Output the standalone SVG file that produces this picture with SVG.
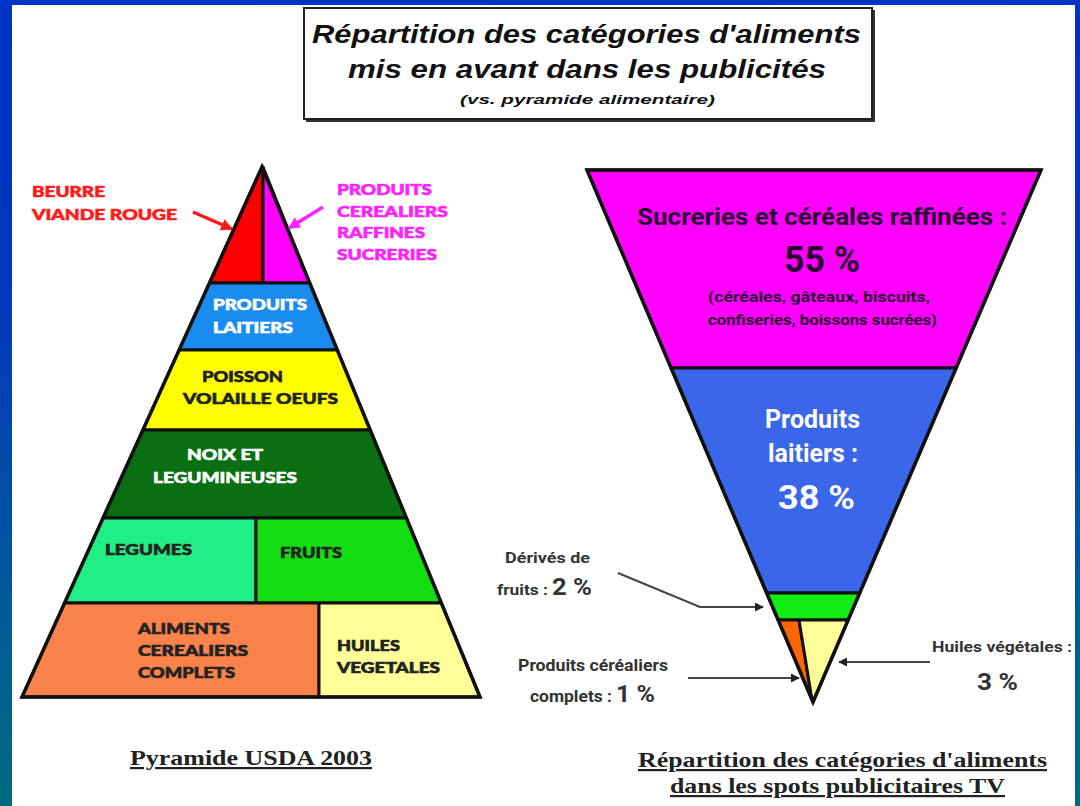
<svg xmlns="http://www.w3.org/2000/svg" width="1080" height="806" viewBox="0 0 1080 806">
<defs>
<linearGradient id="bg" x1="0" y1="0" x2="0" y2="1">
<stop offset="0" stop-color="#0033c6"/>
<stop offset="0.35" stop-color="#0036c0"/>
<stop offset="0.75" stop-color="#005a98"/>
<stop offset="1" stop-color="#006a80"/>
</linearGradient>
<marker id="ahGray" viewBox="0 0 10 10" refX="9" refY="5" markerWidth="9" markerHeight="9" markerUnits="userSpaceOnUse" orient="auto"><path d="M0,0 L10,5 L0,10 z" fill="#222"/></marker>
<marker id="ahRed" viewBox="0 0 10 10" refX="9" refY="5" markerWidth="12" markerHeight="12" markerUnits="userSpaceOnUse" orient="auto"><path d="M0,0 L10,5 L0,10 z" fill="#ff1a1a"/></marker>
<marker id="ahMag" viewBox="0 0 10 10" refX="9" refY="5" markerWidth="12" markerHeight="12" markerUnits="userSpaceOnUse" orient="auto"><path d="M0,0 L10,5 L0,10 z" fill="#ff22ff"/></marker>
</defs>
<style>
.seg{stroke:#111;stroke-width:3;stroke-linejoin:round}
.pl{font-family:Lato,"DejaVu Sans",sans-serif;font-weight:900;font-size:15px;stroke-width:0.6}
.dk{fill:#222;stroke:#222}
.wh{fill:#fff;stroke:#fff}
.title{font-family:"Liberation Sans",Arial,sans-serif;font-weight:bold;font-style:italic;fill:#111}
.cap{font-family:"Liberation Serif","Times New Roman",serif;font-weight:bold;font-size:22px;fill:#222;text-decoration:underline}
.cond{font-family:Roboto,"Liberation Sans",sans-serif;font-weight:bold}
.lab{fill:#333}
.conn{fill:none;stroke:#444;stroke-width:2}
</style>
<rect x="0" y="0" width="1080" height="806" fill="url(#bg)"/>
<rect x="12" y="5" width="1063" height="801" fill="#fff"/>

<g id="title">
<rect x="306" y="10" width="569" height="112" fill="#333"/>
<rect x="304" y="8" width="568" height="111" fill="#fff" stroke="#222" stroke-width="2"/>
<text class="title" x="312" y="43" font-size="25" textLength="549" lengthAdjust="spacingAndGlyphs">Répartition des catégories d'aliments</text>
<text class="title" x="348" y="78" font-size="25" textLength="478" lengthAdjust="spacingAndGlyphs">mis en avant dans les publicités</text>
<text class="title" x="460" y="104" font-size="13" textLength="255" lengthAdjust="spacingAndGlyphs">(vs. pyramide alimentaire)</text>
</g>

<g id="pyramid">
<g id="p-red"><polygon class="seg" points="262,167 263,167 263,283 209.5,283" fill="#ff0000"/></g>
<g id="p-mag"><polygon class="seg" points="263,167 309.7,283 263,283" fill="#ff00ff"/></g>
<g id="p-lait"><polygon class="seg" points="209.5,283 309.7,283 337.3,350 179.1,350" fill="#1a8cf0"/>
<text class="pl wh" x="213" y="310" textLength="94" lengthAdjust="spacingAndGlyphs">PRODUITS</text>
<text class="pl wh" x="213" y="333" textLength="80" lengthAdjust="spacingAndGlyphs">LAITIERS</text></g>
<g id="p-poisson"><polygon class="seg" points="179.1,350 337.3,350 370.2,430 142.9,430" fill="#ffff00"/>
<text class="pl dk" x="202" y="382" textLength="81" lengthAdjust="spacingAndGlyphs">POISSON</text>
<text class="pl dk" x="183" y="404" textLength="155" lengthAdjust="spacingAndGlyphs">VOLAILLE OEUFS</text></g>
<g id="p-noix"><polygon class="seg" points="142.9,430 370.2,430 406.4,518 103.1,518" fill="#0a6e12"/>
<text class="pl wh" x="187" y="460" textLength="76" lengthAdjust="spacingAndGlyphs">NOIX ET</text>
<text class="pl wh" x="153" y="483" textLength="144" lengthAdjust="spacingAndGlyphs">LEGUMINEUSES</text></g>
<g id="p-legumes"><polygon class="seg" points="103.1,518 256,518 256,603 64.6,603" fill="#22ee88"/>
<text class="pl dk" x="105" y="555" textLength="87" lengthAdjust="spacingAndGlyphs">LEGUMES</text></g>
<g id="p-fruits"><polygon class="seg" points="256,518 406.4,518 441.3,603 256,603" fill="#11dd11"/>
<text class="pl dk" x="280" y="558" textLength="62" lengthAdjust="spacingAndGlyphs">FRUITS</text></g>
<g id="p-aliments"><polygon class="seg" points="64.6,603 319,603 319,697 22,697" fill="#f9834a"/>
<text class="pl dk" x="138" y="634" textLength="92" lengthAdjust="spacingAndGlyphs">ALIMENTS</text>
<text class="pl dk" x="138" y="656" textLength="110" lengthAdjust="spacingAndGlyphs">CEREALIERS</text>
<text class="pl dk" x="138" y="678" textLength="97" lengthAdjust="spacingAndGlyphs">COMPLETS</text></g>
<g id="p-huiles"><polygon class="seg" points="319,603 441.3,603 480,697 319,697" fill="#ffff99"/>
<text class="pl dk" x="337" y="651" textLength="63" lengthAdjust="spacingAndGlyphs">HUILES</text>
<text class="pl dk" x="337" y="673" textLength="103" lengthAdjust="spacingAndGlyphs">VEGETALES</text></g>
<polygon points="262,167 480,697 22,697" fill="none" stroke="#111" stroke-width="3.5" stroke-linejoin="miter"/>
</g>

<g id="lab-beurre">
<text class="pl" fill="#ff1a1a" stroke="#ff1a1a" x="32" y="197" textLength="73" lengthAdjust="spacingAndGlyphs">BEURRE</text>
<text class="pl" fill="#ff1a1a" stroke="#ff1a1a" x="32" y="220" textLength="145" lengthAdjust="spacingAndGlyphs">VIANDE ROUGE</text>
</g>
<g id="lab-sucreries">
<text class="pl" fill="#ff22ff" stroke="#ff22ff" x="337" y="195" textLength="95" lengthAdjust="spacingAndGlyphs">PRODUITS</text>
<text class="pl" fill="#ff22ff" stroke="#ff22ff" x="337" y="217" textLength="111" lengthAdjust="spacingAndGlyphs">CEREALIERS</text>
<text class="pl" fill="#ff22ff" stroke="#ff22ff" x="337" y="238" textLength="88" lengthAdjust="spacingAndGlyphs">RAFFINES</text>
<text class="pl" fill="#ff22ff" stroke="#ff22ff" x="337" y="260" textLength="100" lengthAdjust="spacingAndGlyphs">SUCRERIES</text>
</g>

<g id="funnel">
<g id="f-sucreries"><polygon class="seg" points="587,170 1041,170 956.1,368 671.1,368" fill="#ff00ff"/>
<text class="cond" fill="#2a0030" x="637" y="225" font-size="23" textLength="370" lengthAdjust="spacingAndGlyphs">Sucreries et céréales raffinées  :</text>
<text class="cond" fill="#2a0030" x="784" y="272" font-size="36" textLength="76" lengthAdjust="spacingAndGlyphs">55 %</text>
<text class="cond" fill="#2a0030" x="708" y="302" font-size="15" textLength="222" lengthAdjust="spacingAndGlyphs">(céréales, gâteaux, biscuits,</text>
<text class="cond" fill="#2a0030" x="708" y="325" font-size="15" textLength="229" lengthAdjust="spacingAndGlyphs">confiseries, boissons sucrées)</text></g>
<g id="f-laitiers"><polygon class="seg" points="671.1,368 956.1,368 859.7,593 766.7,593" fill="#3a66ea"/>
<text class="cond" fill="#fff" x="765" y="428" font-size="26" textLength="95" lengthAdjust="spacingAndGlyphs">Produits</text>
<text class="cond" fill="#fff" x="768" y="462" font-size="26" textLength="90" lengthAdjust="spacingAndGlyphs">laitiers :</text>
<text class="cond" fill="#fff" x="778" y="509" font-size="34" textLength="77" lengthAdjust="spacingAndGlyphs">38 %</text></g>
<g id="f-fruits"><polygon class="seg" points="766.7,593 859.7,593 848.1,620 778.2,620" fill="#11ee11"/></g>
<g id="f-cereales"><polygon class="seg" points="778.2,620 799,620 811,694 813,702" fill="#ff6600"/></g>
<g id="f-huiles"><polygon class="seg" points="799,620 848.1,620 813,702 811,694" fill="#ffff99"/></g>
<polygon points="587,170 1041,170 813,702" fill="none" stroke="#111" stroke-width="3.5" stroke-linejoin="miter"/>
</g>

<g id="lab-derives">
<text class="cond lab" x="505" y="563" font-size="15" textLength="85" lengthAdjust="spacingAndGlyphs">Dérivés de</text>
<text class="cond lab" x="497" y="595" font-size="15" textLength="51" lengthAdjust="spacingAndGlyphs">fruits :</text>
<text class="cond lab" x="552" y="595" font-size="24" textLength="40" lengthAdjust="spacingAndGlyphs">2 %</text>
</g>
<g id="lab-complets">
<text class="cond lab" x="518" y="671" font-size="16" textLength="150" lengthAdjust="spacingAndGlyphs">Produits céréaliers</text>
<text class="cond lab" x="530" y="702" font-size="16" textLength="82" lengthAdjust="spacingAndGlyphs">complets :</text>
<text class="cond lab" x="616" y="702" font-size="24" textLength="39" lengthAdjust="spacingAndGlyphs">1 %</text>
</g>
<g id="lab-huiles">
<text class="cond lab" x="932" y="652" font-size="15" textLength="140" lengthAdjust="spacingAndGlyphs">Huiles végétales :</text>
<text class="cond lab" x="977" y="690" font-size="24" textLength="41" lengthAdjust="spacingAndGlyphs">3 %</text>
</g>

<g id="connectors">
<line x1="193" y1="212" x2="232" y2="229" stroke="#ff1a1a" stroke-width="3.5" marker-end="url(#ahRed)"/>
<line x1="323" y1="207" x2="289" y2="228" stroke="#ff22ff" stroke-width="3.5" marker-end="url(#ahMag)"/>
<polyline class="conn" points="618,573 700,607 763,607" marker-end="url(#ahGray)"/>
<line class="conn" x1="688" y1="678" x2="799" y2="678" marker-end="url(#ahGray)"/>
<line class="conn" x1="930" y1="662" x2="839" y2="662" marker-end="url(#ahGray)"/>
</g>

<g id="captions">
<text class="cap" x="130" y="765" textLength="242" lengthAdjust="spacingAndGlyphs">Pyramide USDA 2003</text>
<text class="cap" x="638" y="767" textLength="409" lengthAdjust="spacingAndGlyphs">Répartition des catégories d'aliments</text>
<text class="cap" x="670" y="793" textLength="335" lengthAdjust="spacingAndGlyphs">dans les spots publicitaires TV</text>
</g>
</svg>
